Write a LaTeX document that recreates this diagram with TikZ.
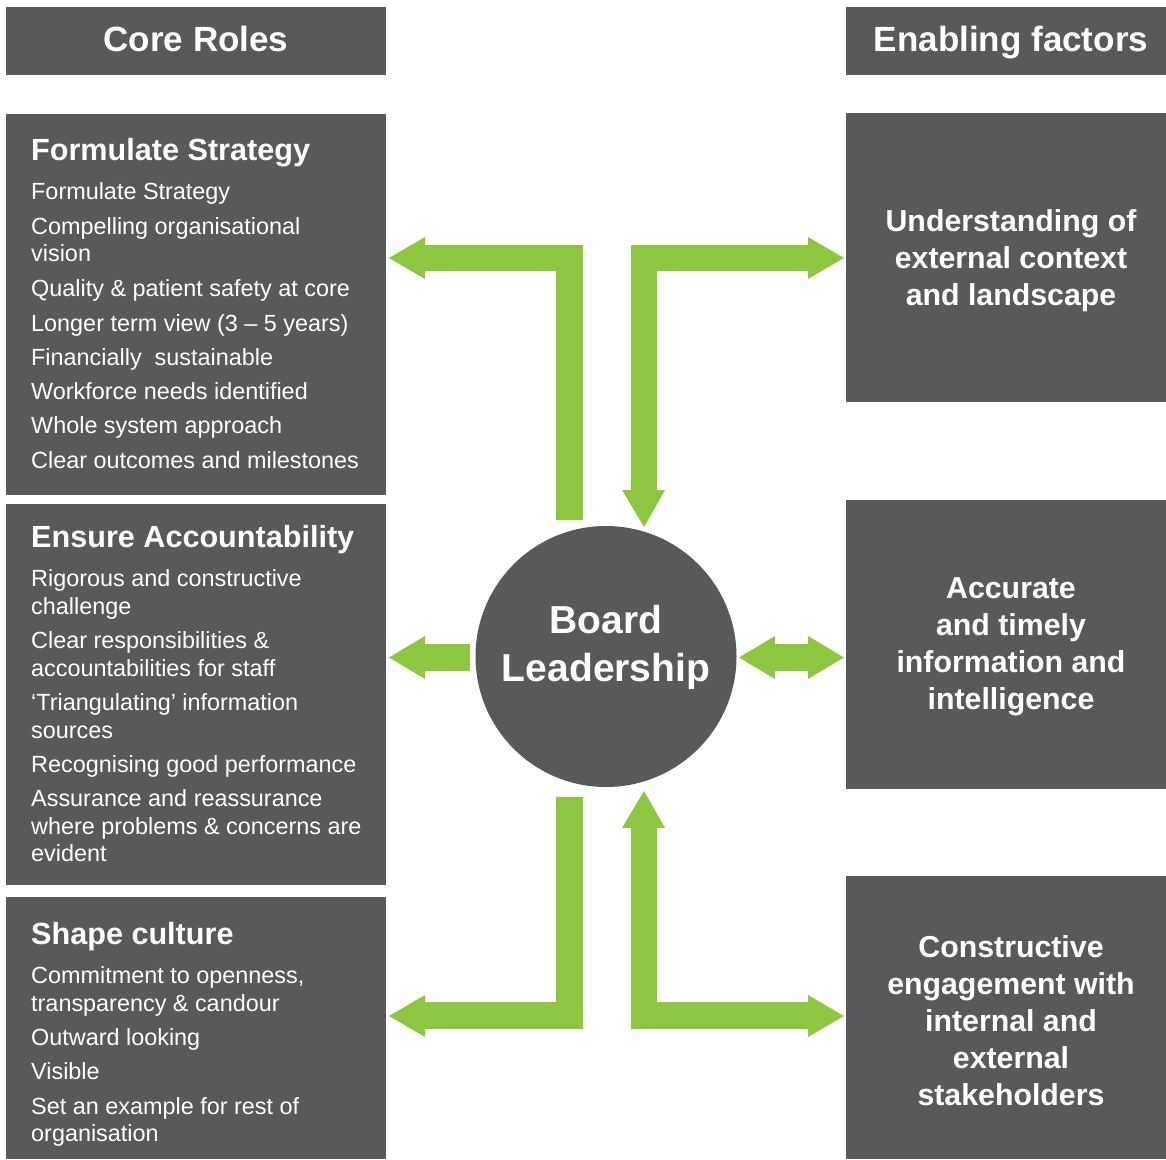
\documentclass[tikz,border=0pt]{standalone}
\usepackage{fontspec}
\setmainfont{Liberation Sans}
\definecolor{boxgray}{HTML}{58595B}
\definecolor{arrgreen}{HTML}{8DC63F}
\tikzset{
  box/.style={fill=boxgray, draw=none},
  hdr/.style={text=white, font=\fontsize{35}{40}\selectfont\bfseries, anchor=base, inner sep=0pt},
  ttl/.style={text=white, font=\fontsize{30.6}{36}\selectfont\bfseries, anchor=base west, inner sep=0pt},
  body/.style={text=white, font=\fontsize{23.4}{27}\selectfont, anchor=base west, inner sep=0pt},
  rtxt/.style={text=white, font=\fontsize{30.3}{37}\selectfont\bfseries, anchor=base, inner sep=0pt},
  ctxt/.style={text=white, font=\fontsize{39}{48}\selectfont\bfseries, anchor=base, inner sep=0pt},
  blockarrow/.style={fill=arrgreen, draw=none}
}
\newcommand{\bl}[3]{\node[body] (#1) at (31,#2) {#3};}
\newcommand{\rl}[3]{\node[rtxt] (#1) at (1011,#2) {#3};}
\begin{document}
\begin{tikzpicture}[x=1pt,y=-1pt]
\useasboundingbox (0,0) rectangle (1166,1159);
% headers
\fill[box] (6,7) rectangle (386,75);
\node[hdr] (hcore) at (196,51) {Core Roles};
\fill[box] (846,7) rectangle (1166,75);
\node[hdr] (henab) at (1011,51) {Enabling factors};
% left boxes
\fill[box] (6,114) rectangle (386,495);
\node[ttl] (t1) at (31,160) {Formulate Strategy};
\bl{a1}{199}{Formulate Strategy}
\bl{a2}{234}{Compelling organisational}
\bl{a3}{261}{vision}
\bl{a4}{296}{Quality \& patient safety at core}
\bl{a5}{331}{Longer term view (3 – 5 years)}
\bl{a6}{365}{Financially\ \ sustainable}
\bl{a7}{399}{Workforce needs identified}
\bl{a8}{433}{Whole system approach}
\bl{a9}{468}{Clear outcomes and milestones}

\fill[box] (6,504) rectangle (386,885);
\node[ttl] (t2) at (31,547) {Ensure Accountability};
\bl{b1}{586}{Rigorous and constructive}
\bl{b2}{614}{challenge}
\bl{b3}{648}{Clear responsibilities \&}
\bl{b4}{676}{accountabilities for staff}
\bl{b5}{710}{‘Triangulating’ information}
\bl{b6}{738}{sources}
\bl{b7}{772}{Recognising good performance}
\bl{b8}{806}{Assurance and reassurance}
\bl{b9}{834}{where problems \& concerns are}
\bl{b10}{861}{evident}

\fill[box] (6,897) rectangle (386,1159);
\node[ttl] (t3) at (31,944) {Shape culture};
\bl{c1}{983}{Commitment to openness,}
\bl{c2}{1011}{transparency \& candour}
\bl{c3}{1045}{Outward looking}
\bl{c4}{1079}{Visible}
\bl{c5}{1114}{Set an example for rest of}
\bl{c6}{1141}{organisation}

% right boxes
\fill[box] (846,113) rectangle (1166,402);
\rl{r1}{231}{Understanding of}
\rl{r2}{268}{external context}
\rl{r3}{305}{and landscape}
\fill[box] (846,500) rectangle (1166,789);
\rl{s1}{598}{Accurate}
\rl{s2}{635}{and timely}
\rl{s3}{672}{information and}
\rl{s4}{709}{intelligence}
\fill[box] (846,876) rectangle (1166,1159);
\rl{u1}{957}{Constructive}
\rl{u2}{994}{engagement with}
\rl{u3}{1031}{internal and}
\rl{u4}{1068}{external}
\rl{u5}{1105}{stakeholders}

% centre circle
\fill[boxgray] (606,656.5) circle (130.5);
\node[ctxt] (cb) at (606,633) {Board};
\node[ctxt] (cl) at (606,681) {Leadership};

% arrows
\fill[blockarrow] (583,520) -- (583,245) -- (425,245) -- (425,237) -- (389,258) -- (425,279) -- (425,271) -- (556,271) -- (556,520) -- cycle;
\fill[blockarrow] (631,245) -- (808,245) -- (808,237) -- (844,258) -- (808,279) -- (808,271) -- (657,271) -- (657,490) -- (665,490) -- (644,527) -- (622,490) -- (631,490) -- cycle;
\fill[blockarrow] (470,644) -- (425,644) -- (425,636) -- (389,657.5) -- (425,679) -- (425,671) -- (470,671) -- cycle;
\fill[blockarrow] (775,644) -- (808,644) -- (808,636) -- (844,657.5) -- (808,679) -- (808,671) -- (775,671) -- (775,679) -- (739,657.5) -- (775,636) -- cycle;
\fill[blockarrow] (556,797) -- (583,797) -- (583,1029) -- (425,1029) -- (425,1037) -- (389,1016) -- (425,995) -- (425,1002) -- (556,1002) -- cycle;
\fill[blockarrow] (644,791) -- (665,828) -- (657,828) -- (657,1002) -- (808,1002) -- (808,995) -- (844,1016) -- (808,1037) -- (808,1029) -- (631,1029) -- (631,828) -- (622,828) -- cycle;
\end{tikzpicture}
\end{document}
